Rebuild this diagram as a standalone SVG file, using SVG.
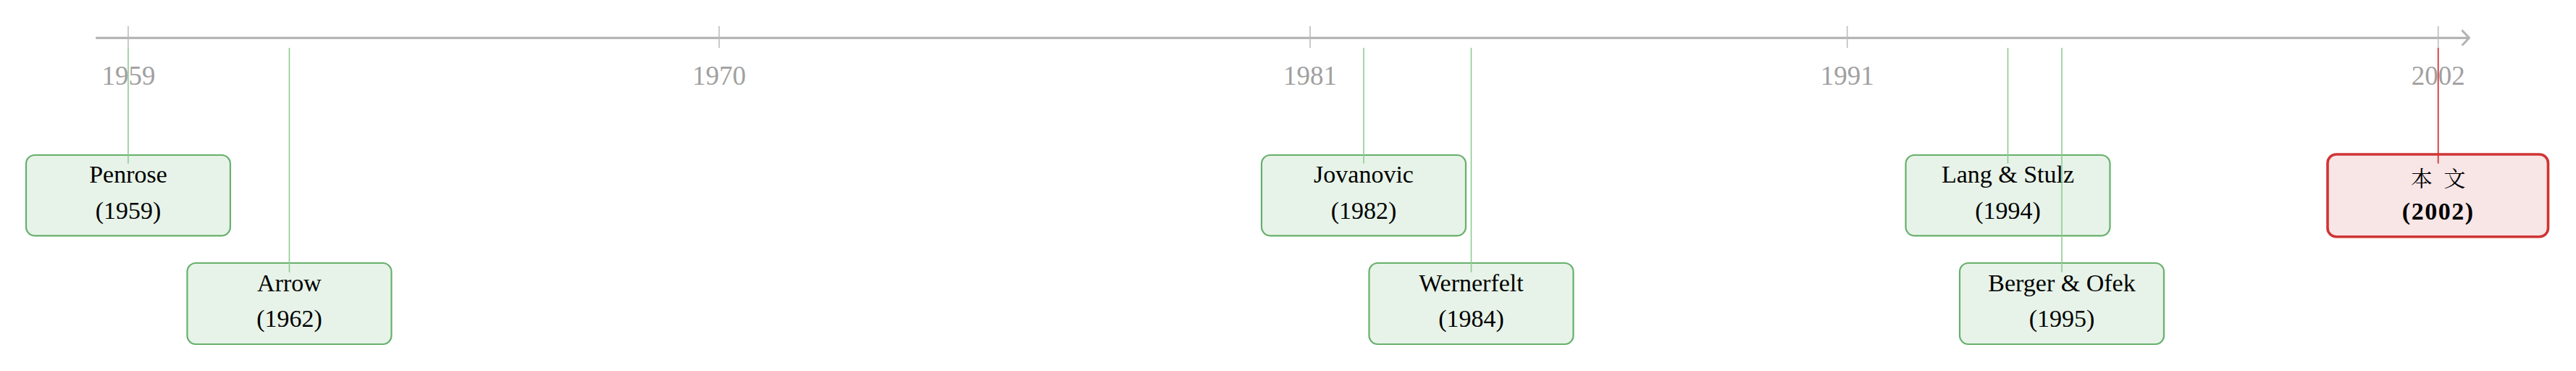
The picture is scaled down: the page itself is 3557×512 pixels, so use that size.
<svg xmlns="http://www.w3.org/2000/svg" width="3557" height="512" viewBox="0 0 3557 512">
<defs>
<marker id="arr" viewBox="0 0 12 22" refX="10" refY="11" markerWidth="12" markerHeight="22" markerUnits="userSpaceOnUse" orient="auto">
<path d="M1,1 L10.5,11 L1,21" fill="none" stroke="#b3b3b3" stroke-width="3" stroke-linecap="round" stroke-linejoin="round"/>
</marker>
<style>
.axis{stroke:#b5b5b5;stroke-width:3.3;fill:none}
.tick{stroke:#bdbdbd;stroke-width:1.6}
.ylab{font-family:"Liberation Serif","DejaVu Serif",serif;font-size:37px;fill:#a0a0a0;text-anchor:middle}
.gbox{fill:#e7f3e8;stroke:#66b06b;stroke-width:2.2}
.rbox{fill:#f8e5e6;stroke:#d03434;stroke-width:3.6}
.gline{stroke:#8ecb92;stroke-width:1.6}
.rline{stroke:#d03434;stroke-width:1.8}
.t{font-family:"Liberation Serif","DejaVu Serif",serif;font-size:34px;fill:#000;text-anchor:middle}
.cjk{font-family:"Noto Serif CJK SC","Noto Sans CJK SC",serif;font-size:30px;fill:#000;text-anchor:middle;word-spacing:8px}
.b{font-weight:bold;letter-spacing:1.5px}
</style>
</defs>
<g id="timeline-axis">
<line class="axis" x1="132.3" y1="52.3" x2="3409" y2="52.3" marker-end="url(#arr)"/>
<line class="tick" x1="177" y1="36" x2="177" y2="66"/>
<line class="tick" x1="993" y1="36" x2="993" y2="66"/>
<line class="tick" x1="1809" y1="36" x2="1809" y2="66"/>
<line class="tick" x1="2550.7" y1="36" x2="2550.7" y2="66"/>
<line class="tick" x1="3366.7" y1="36" x2="3366.7" y2="66"/>
<text class="ylab" x="177.5" y="117.3">1959</text>
<text class="ylab" x="993" y="117.3">1970</text>
<text class="ylab" x="1809" y="117.3">1981</text>
<text class="ylab" x="2550.7" y="117.3">1991</text>
<text class="ylab" x="3366.7" y="117.3">2002</text>
</g>
<g id="node-penrose">
<rect class="gbox" x="36" y="214" width="282" height="111.3" rx="12"/>
<text class="t" x="177" y="252.3">Penrose</text>
<text class="t" x="177" y="301.7">(1959)</text>
</g>
<g id="node-arrow">
<rect class="gbox" x="258.5" y="363" width="282" height="112" rx="12"/>
<text class="t" x="399.5" y="401.7">Arrow</text>
<text class="t" x="399.5" y="451">(1962)</text>
</g>
<g id="node-jovanovic">
<rect class="gbox" x="1742" y="214" width="282" height="111.3" rx="12"/>
<text class="t" x="1883" y="252.3">Jovanovic</text>
<text class="t" x="1883" y="301.7">(1982)</text>
</g>
<g id="node-wernerfelt">
<rect class="gbox" x="1890.5" y="363" width="282" height="112" rx="12"/>
<text class="t" x="2031.5" y="401.7">Wernerfelt</text>
<text class="t" x="2031.5" y="451">(1984)</text>
</g>
<g id="node-lang-stulz">
<rect class="gbox" x="2631.5" y="214" width="282" height="111.3" rx="12"/>
<text class="t" x="2772.5" y="252.3">Lang &amp; Stulz</text>
<text class="t" x="2772.5" y="301.7">(1994)</text>
</g>
<g id="node-berger-ofek">
<rect class="gbox" x="2706" y="363" width="282" height="112" rx="12"/>
<text class="t" x="2847" y="401.7">Berger &amp; Ofek</text>
<text class="t" x="2847" y="451">(1995)</text>
</g>
<g id="node-this-paper">
<rect class="rbox" x="3214" y="213" width="304.5" height="113.7" rx="12"/>
<text class="cjk" x="3366.7" y="257">本 文</text>
<text class="t b" x="3366.7" y="302.7">(2002)</text>
</g>
<g id="connectors">
<line class="gline" x1="177" y1="66" x2="177" y2="225.7"/>
<line class="gline" x1="399.5" y1="66" x2="399.5" y2="375.7"/>
<line class="gline" x1="1883" y1="66" x2="1883" y2="225.7"/>
<line class="gline" x1="2031.5" y1="66" x2="2031.5" y2="375.7"/>
<line class="gline" x1="2772.5" y1="66" x2="2772.5" y2="225.7"/>
<line class="gline" x1="2847" y1="66" x2="2847" y2="375.7"/>
<line class="rline" x1="3366.7" y1="66" x2="3366.7" y2="225.7"/>
</g>
</svg>
